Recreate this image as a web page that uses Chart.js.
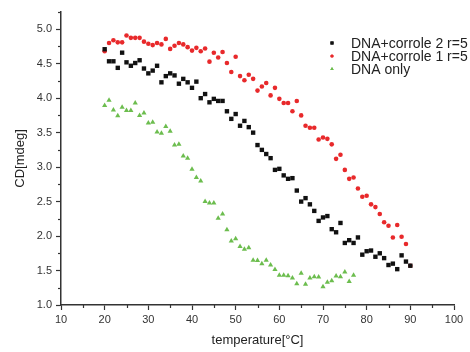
<!DOCTYPE html>
<html>
<head>
<meta charset="utf-8">
<script src="https://cdn.jsdelivr.net/npm/chart.js@4/dist/chart.umd.min.js"></script>
<style>
html,body{margin:0;padding:0;background:#fff;}
#wrap{width:470px;height:352px;}
</style>
</head>
<body>
<div id="wrap"><canvas id="c" width="470" height="352"></canvas></div>
<script>
const tempsLong = [20,21,22,23,24,25,26,27,28,29,30,31,32,33,34,35,36,37,38,39,40,41,42,43,44,45,46,47,48,49,50,51,52,53,54,55,56,57,58,59,60,61,62,63,64,65,66,67,68,69,70,71,72,73,74,75,76,77,78,79,80,81,82,83,84,85,86,87,88,89,90];
const tempsShort = [20,21,22,23,24,25,26,27,28,29,30,31,32,33,34,35,36,37,38,39,40,41,42,43,44,45,46,47,48,49,50,51,52,53,54,55,56,57,58,59,60,61,62,63,64,65,66,67,68,69,70,71,72,73,74,75,76,77];

const corrole2 = [4.71,4.535,4.535,4.44,4.66,4.52,4.47,4.51,4.55,4.43,4.36,4.40,4.47,4.23,4.32,4.36,4.33,4.21,4.28,4.23,4.15,4.24,4.00,4.06,3.94,3.99,3.96,3.96,3.81,3.70,3.77,3.60,3.67,3.58,3.50,3.32,3.25,3.19,3.13,2.96,2.975,2.88,2.83,2.84,2.66,2.50,2.55,2.46,2.365,2.22,2.27,2.29,2.10,2.055,2.19,1.90,1.94,1.90,1.98,1.73,1.78,1.79,1.70,1.75,1.68,1.58,1.60,1.52,1.72,1.63,1.57];
const corrole1 = [4.68,4.80,4.84,4.81,4.81,4.91,4.875,4.875,4.875,4.82,4.79,4.77,4.80,4.78,4.86,4.715,4.76,4.80,4.78,4.74,4.69,4.73,4.68,4.72,4.53,4.66,4.59,4.67,4.51,4.38,4.60,4.32,4.26,4.34,4.28,4.11,4.17,4.22,4.04,4.15,3.99,3.93,3.93,3.81,3.96,3.75,3.60,3.57,3.57,3.40,3.43,3.41,3.33,3.12,3.18,2.96,2.83,2.85,2.69,2.57,2.585,2.46,2.42,2.32,2.20,2.15,1.98,2.16,1.99,1.885,1.57];
const dnaOnly = [3.895,3.97,3.83,3.745,3.87,3.82,3.82,3.93,3.75,3.785,3.64,3.65,3.51,3.49,3.59,3.52,3.32,3.33,3.16,3.13,2.97,2.85,2.80,2.50,2.48,2.48,2.26,2.32,2.09,1.93,1.96,1.85,1.81,1.83,1.65,1.645,1.60,1.65,1.58,1.515,1.43,1.43,1.425,1.39,1.31,1.46,1.30,1.39,1.41,1.405,1.265,1.33,1.35,1.42,1.41,1.48,1.34,1.43];

const seriesLabels = ['DNA+corrole 2 r=5','DNA+corrole 1 r=5','DNA only'];
const xTitle = 'temperature[\u00B0C]';
const yTitle = 'CD[mdeg]';

const toPts = (xs, ys) => ys.map((v, i) => ({x: xs[i], y: v}));

const FONT = "'Liberation Sans', Arial, sans-serif";
const AX = '#333';

const minorTicks = {
  id: 'minorTicks',
  afterDraw(chart) {
    const ctx = chart.ctx;
    const xs = chart.scales.x, ys = chart.scales.y;
    ctx.save();
    ctx.strokeStyle = AX;
    ctx.lineWidth = 1.2;
    for (let v = 15; v < 100; v += 10) {
      const px = Math.round(xs.getPixelForValue(v)) + 0.5;
      ctx.beginPath(); ctx.moveTo(px, xs.top); ctx.lineTo(px, xs.top + 3); ctx.stroke();
    }
    for (let v = 1.25; v < 5.3; v += 0.5) {
      const py = Math.round(ys.getPixelForValue(v)) + 0.5;
      ctx.beginPath(); ctx.moveTo(ys.right, py); ctx.lineTo(ys.right - 3, py); ctx.stroke();
    }
    // legend
    const rows = [43, 56, 69];
    ctx.font = '14px ' + FONT;
    ctx.textBaseline = 'middle';
    chart.data.datasets.forEach((ds, i) => {
      const st = {pointStyle: ds.pointStyle, radius: ds.legendRadius, rotation: 0, borderWidth: 0};
      ctx.fillStyle = ds.backgroundColor;
      ctx.strokeStyle = ds.backgroundColor;
      Chart.helpers.drawPoint(ctx, st, 332, rows[i]);
      ctx.fill();
      ctx.fillStyle = '#222';
      ctx.fillText(ds.label, 351, rows[i] + 1);
    });
    ctx.restore();
  }
};

new Chart(document.getElementById('c'), {
  type: 'scatter',
  data: {
    datasets: [
      {label: seriesLabels[0], data: toPts(tempsLong, corrole2), pointStyle: 'rect', pointRadius: 3.1, backgroundColor: '#111', borderColor: '#111', borderWidth: 0, legendRadius: 2.2},
      {label: seriesLabels[1], data: toPts(tempsLong, corrole1), pointStyle: 'circle', pointRadius: 2.3, backgroundColor: '#e8292b', borderColor: '#e8292b', borderWidth: 0, legendRadius: 1.6},
      {label: seriesLabels[2], data: toPts(tempsShort, dnaOnly), pointStyle: 'triangle', pointRadius: 3, backgroundColor: '#6cbd4e', borderColor: '#6cbd4e', borderWidth: 0, legendRadius: 2}
    ]
  },
  options: {
    responsive: false,
    animation: false,
    events: [],
    layout: {padding: {top: 12, right: 16, bottom: 0, left: 0}},
    plugins: {legend: {display: false}, tooltip: {enabled: false}},
    scales: {
      x: {
        type: 'linear', min: 10, max: 100,
        afterFit(s) { s.height = 47; },
        border: {display: true, color: AX, width: 1.5},
        grid: {display: true, drawOnChartArea: false, drawTicks: true, tickLength: 5, tickColor: AX, tickWidth: 1.2},
        ticks: {stepSize: 10, color: AX, padding: 3, font: {family: FONT, size: 11}, maxRotation: 0},
        title: {display: true, text: xTitle, color: '#222', font: {family: FONT, size: 13}, padding: {top: 0, bottom: 4}}
      },
      y: {
        type: 'linear', min: 1.0, max: 5.25,
        afterFit(s) { s.width = 61; },
        border: {display: true, color: AX, width: 1.5},
        grid: {display: true, drawOnChartArea: false, drawTicks: true, tickLength: 5,
          tickColor: (c) => (Math.abs(c.tick.value * 2 - Math.round(c.tick.value * 2)) < 1e-6 ? AX : 'rgba(0,0,0,0)'), tickWidth: 1.2},
        ticks: {stepSize: 0.5, color: AX, padding: 4, font: {family: FONT, size: 11},
          callback: (v) => (Math.abs(v * 2 - Math.round(v * 2)) < 1e-6 ? v.toFixed(1) : '')},
        title: {display: true, text: yTitle, color: '#222', font: {family: FONT, size: 13}, padding: {top: 13, bottom: 0}}
      }
    }
  },
  plugins: [minorTicks]
});
</script>
</body>
</html>
